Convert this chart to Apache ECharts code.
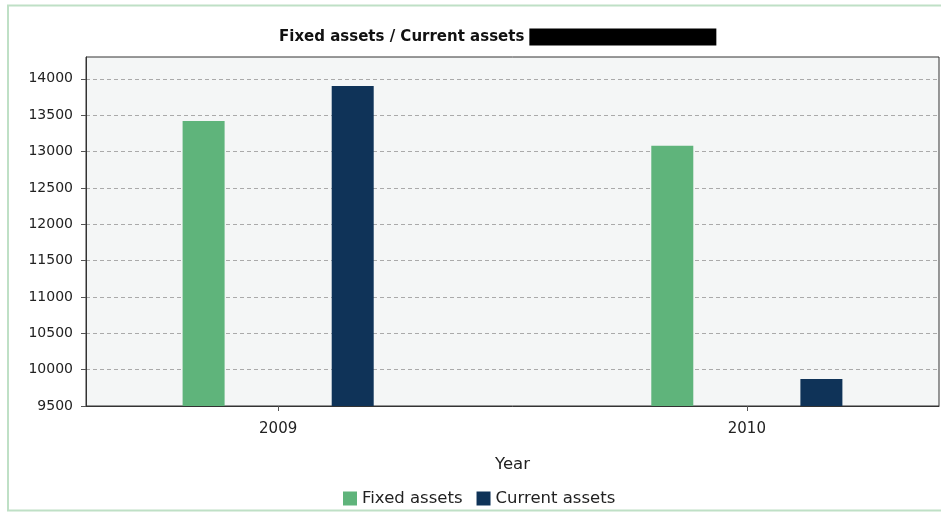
<!DOCTYPE html>
<html>
<head>
<meta charset="utf-8">
<script src="https://cdn.jsdelivr.net/npm/echarts@6/dist/echarts.min.js"></script>
<style>
html,body{margin:0;padding:0;background:#fff;}
#chart{width:941px;height:514px;}
</style>
</head>
<body>
<div id="chart"></div>
<script>
const years = [2009, 2010];
const seriesNames = ['Fixed assets', 'Current assets'];
const fixedAssets = [13420, 13080];
const currentAssets = [13900, 9870];
const yTicks = [9500, 10000, 10500, 11000, 11500, 12000, 12500, 13000, 13500, 14000];
const colors = ['#5fb47b', '#0f3358'];

const chart = echarts.init(document.getElementById('chart'));
const font = 'DejaVu Sans';
chart.setOption({
  animation: false,
  graphic: [{
    type: 'rect', z: -10,
    shape: {x: 8, y: 5.5, width: 1000, height: 505},
    style: {fill: '#fff', stroke: '#bfe0c6', lineWidth: 2}
  }],
  title: {
    text: '{t|Fixed assets / Current assets} {b|}',
    left: 274, top: 23,
    textStyle: {
      rich: {
        t: {fontFamily: font, fontSize: 15, color: '#111', fontWeight: 'bold'},
        b: {backgroundColor: '#000', width: 187, height: 17}
      }
    }
  },
  legend: {
    bottom: 2, left: 338,
    itemWidth: 14, itemHeight: 14, itemGap: 14,
    icon: 'rect',
    textStyle: {fontFamily: font, fontSize: 16.5, color: '#222'},
    data: seriesNames
  },
  grid: {
    left: 86, right: 2, top: 57, bottom: 108,
    show: true, backgroundColor: '#f4f6f6', borderColor: '#333', borderWidth: 1
  },
  xAxis: {
    type: 'value',
    min: 2008.59, max: 2010.41,
    name: 'Year', nameLocation: 'middle', nameGap: 50,
    nameTextStyle: {fontFamily: font, fontSize: 16.5, color: '#222'},
    axisLine: {show: true, lineStyle: {color: '#333'}},
    axisTick: {show: true, customValues: years, length: 5, lineStyle: {color: '#555'}},
    axisLabel: {customValues: years, fontFamily: font, fontSize: 15, color: '#222', margin: 16,
      formatter: v => String(v)},
    splitLine: {show: false}
  },
  yAxis: {
    type: 'value',
    min: 9500, max: 14300, interval: 500,
    axisLine: {show: true, lineStyle: {color: '#333'}},
    axisTick: {show: true, customValues: yTicks, length: 5, lineStyle: {color: '#555'}},
    axisLabel: {customValues: yTicks, fontFamily: font, fontSize: 14, color: '#222', margin: 13,
      formatter: v => String(v)},
    splitLine: {show: true, lineStyle: {color: '#aaa', type: [4, 3]}}
  },
  series: [
    {name: seriesNames[0], type: 'bar', barWidth: 42, barGap: '255%',
     itemStyle: {color: colors[0]},
     data: years.map((y, i) => [y, fixedAssets[i]])},
    {name: seriesNames[1], type: 'bar', barWidth: 42, barGap: '255%',
     itemStyle: {color: colors[1]},
     data: years.map((y, i) => [y, currentAssets[i]])}
  ]
});
</script>
</body>
</html>
